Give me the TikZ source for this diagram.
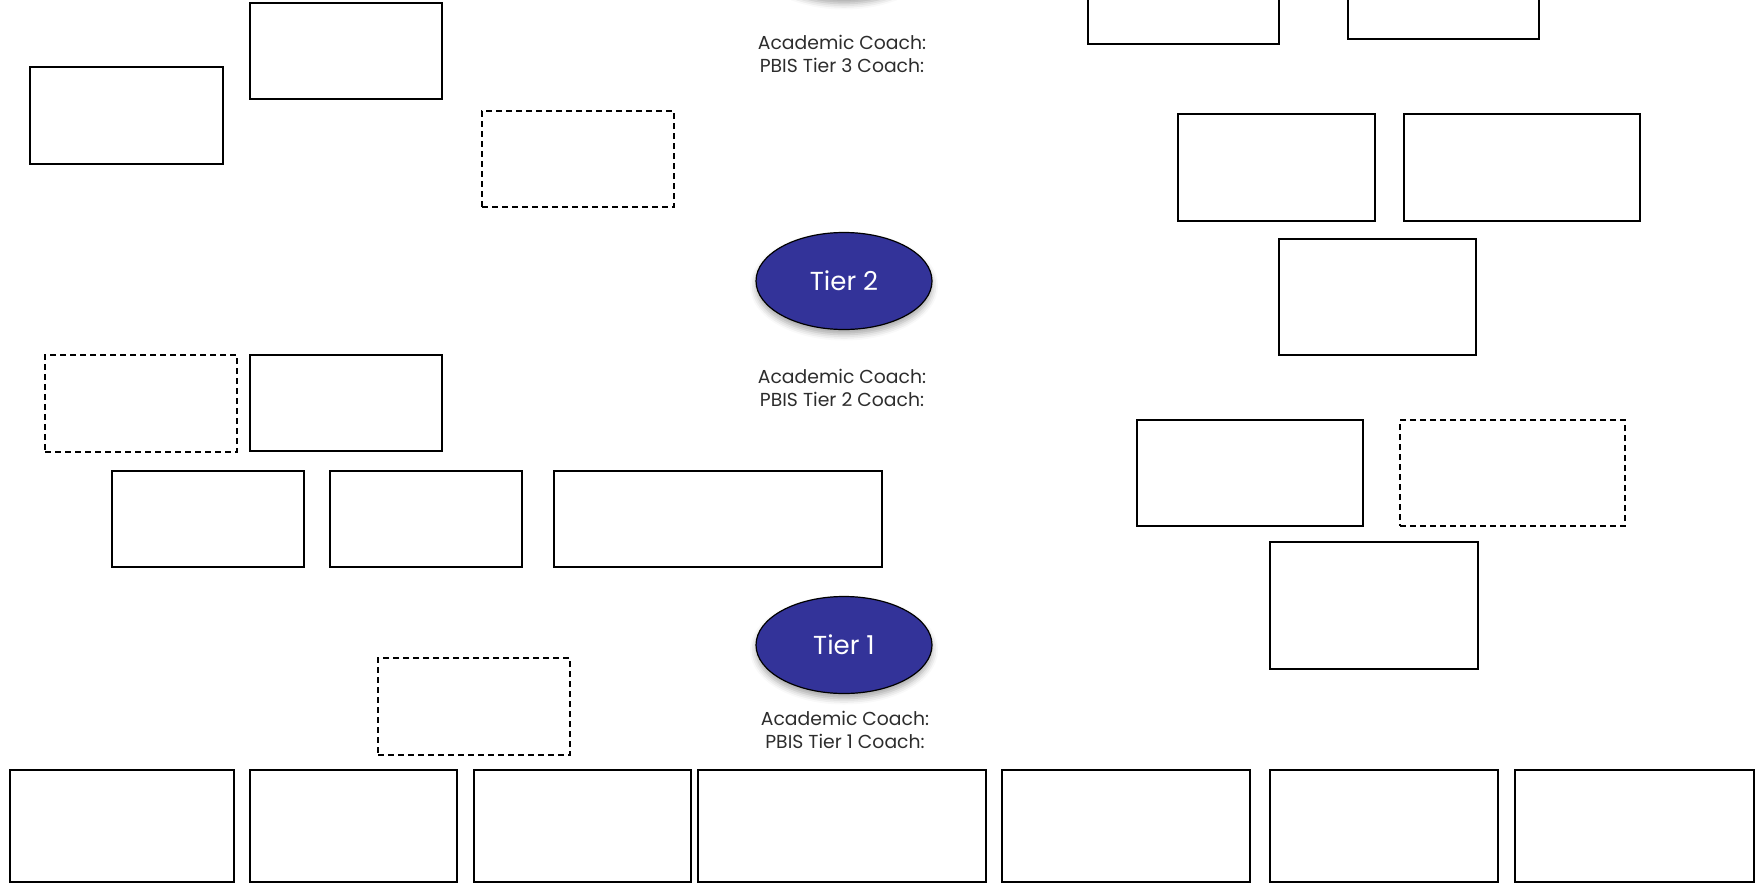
\documentclass[tikz,border=0pt]{standalone}
\usepackage{fontspec}
\setmainfont{Poppins}
\usetikzlibrary{shapes.geometric,shadows.blur}
\definecolor{tierblue}{RGB}{51,51,153}
\definecolor{coachgray}{RGB}{45,45,45}
\begin{document}
\begin{tikzpicture}[x=1pt,y=-1pt]
	\tikzstyle{mybox}=[draw,line width=1.4pt,inner sep=0pt]
	\tikzstyle{mydash}=[mybox,dash pattern=on 6pt off 4pt]
	\tikzstyle{mytier}=[ellipse,draw,line width=1.2pt,fill=tierblue,text=white,minimum width=176pt,minimum height=97pt,inner sep=0pt,font=\fontsize{26}{28}\selectfont,blur shadow={shadow xshift=0pt,shadow yshift=-5pt,shadow blur radius=6pt,shadow opacity=35}]
	\tikzstyle{mycoach}=[align=center,text=coachgray,inner sep=0pt,font=\fontsize{18.8}{22.5}\selectfont]
	\useasboundingbox (0,0) rectangle (1758,886);

		% solid boxes: name / left / top / right / bottom
		\foreach \n/\a/\b/\c/\d in {sa/30/67/223/164,sb/250/3/442/99,
			ta/1088/-52/1279/44,tb/1348/-56/1539/39,
			ra/1178/114/1375/221,rb/1404/114/1640/221,rc/1279/239/1476/355,
			ma/250/355/442/451,la/112/471/304/567,lb/330/471/522/567,lc/554/471/882/567,
			rd/1137/420/1363/526,re/1270/542/1478/669,
			ba/10/770/234/882,bb/250/770/457/882,bc/474/770/691/882,bd/698/770/986/882,
			be/1002/770/1250/882,bf/1270/770/1498/882,bg/1515/770/1754/882}
			{\node[mybox,minimum width={(\c-\a)*1pt},minimum height={(\d-\b)*1pt}] (\n) at ({(\a+\c)/2},{(\b+\d)/2}) {};}

		% dashed boxes
		\foreach \n/\a/\b/\c/\d in {da/482/111/674/207,db/45/355/237/452,dc/1400/420/1625/526,dd/378/658/570/755}
			{\node[mydash,minimum width={(\c-\a)*1pt},minimum height={(\d-\b)*1pt}] (\n) at ({(\a+\c)/2},{(\b+\d)/2}) {};}

		\node[mytier] (tier3) at (844,-50) {};
		\node[mytier] (tier2) at (844,281) {Tier 2};
		\node[mytier] (tier1) at (844,645) {Tier 1};

		\node[mycoach] (coach3) at (842,54) {Academic Coach:\\PBIS Tier 3 Coach:};
		\node[mycoach] (coach2) at (842,388) {Academic Coach:\\PBIS Tier 2 Coach:};
		\node[mycoach] (coach1) at (845,730) {Academic Coach:\\PBIS Tier 1 Coach:};
	\end{tikzpicture}
\end{document}
